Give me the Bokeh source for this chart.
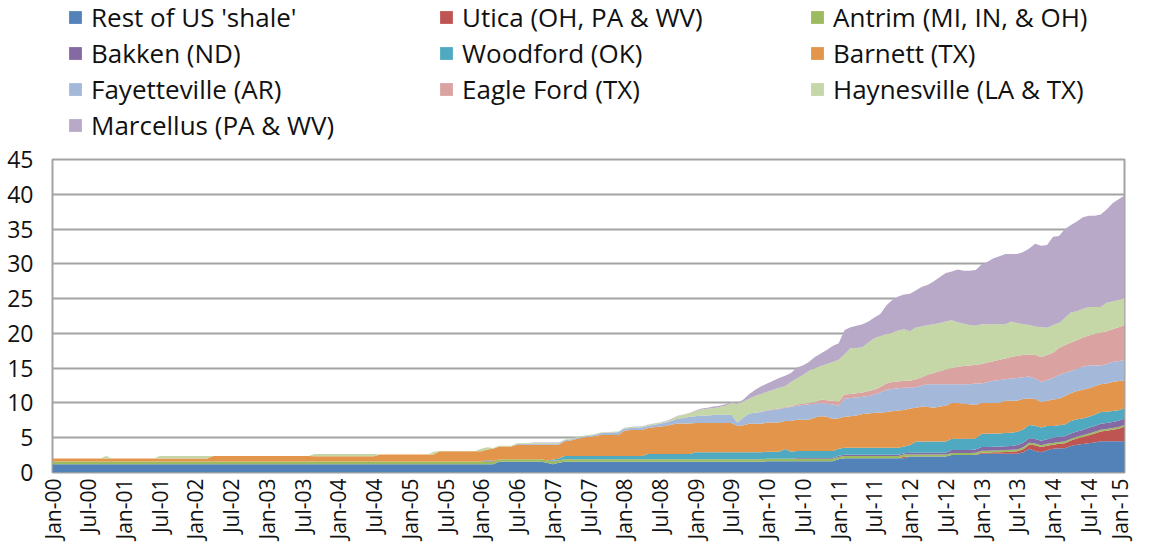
import math
from bokeh.plotting import figure
from bokeh.layouts import column
from bokeh.models import ColumnDataSource, FixedTicker, Range1d, Legend, LegendItem
from bokeh.embed import file_html
from bokeh.resources import INLINE

# ---------------- data ----------------
tick_labels = ["Jan-00", "Jul-00", "Jan-01", "Jul-01", "Jan-02", "Jul-02", "Jan-03", "Jul-03",
               "Jan-04", "Jul-04", "Jan-05", "Jul-05", "Jan-06", "Jul-06", "Jan-07", "Jul-07",
               "Jan-08", "Jul-08", "Jan-09", "Jul-09", "Jan-10", "Jul-10", "Jan-11", "Jul-11",
               "Jan-12", "Jul-12", "Jan-13", "Jul-13", "Jan-14", "Jul-14", "Jan-15"]
y_ticks = [0, 5, 10, 15, 20, 25, 30, 35, 40, 45]
months = list(range(181))  # monthly index, Jan-00 .. Jan-15

series_names = ["Rest of US 'shale'", "Utica (OH, PA & WV)", "Antrim (MI, IN, & OH)",
                "Bakken (ND)", "Woodford (OK)", "Barnett (TX)",
                "Fayetteville (AR)", "Eagle Ford (TX)", "Haynesville (LA & TX)",
                "Marcellus (PA & WV)"]

rest_of_us = [
    1.2, 1.2, 1.2, 1.2, 1.2, 1.2, 1.2, 1.2, 1.2, 1.2, 1.2, 1.2,
    1.2, 1.2, 1.2, 1.2, 1.2, 1.2, 1.2, 1.2, 1.2, 1.2, 1.2, 1.2,
    1.2, 1.2, 1.2, 1.2, 1.2, 1.2, 1.2, 1.2, 1.2, 1.2, 1.2, 1.2,
    1.2, 1.2, 1.2, 1.2, 1.2, 1.2, 1.2, 1.2, 1.2, 1.2, 1.2, 1.2,
    1.2, 1.2, 1.2, 1.2, 1.2, 1.2, 1.2, 1.2, 1.2, 1.2, 1.2, 1.2,
    1.2, 1.2, 1.2, 1.2, 1.2, 1.2, 1.2, 1.2, 1.2, 1.2, 1.2, 1.2,
    1.2, 1.2, 1.2, 1.55, 1.55, 1.55, 1.55, 1.55, 1.55, 1.55, 1.55, 1.4,
    1.2, 1.4, 1.55, 1.55, 1.55, 1.55, 1.55, 1.55, 1.55, 1.55, 1.55, 1.55,
    1.55, 1.55, 1.55, 1.55, 1.55, 1.55, 1.55, 1.55, 1.55, 1.55, 1.55, 1.55,
    1.55, 1.55, 1.55, 1.55, 1.55, 1.55, 1.55, 1.55, 1.55, 1.55, 1.55, 1.55,
    1.6, 1.6, 1.6, 1.6, 1.6, 1.6, 1.6, 1.6, 1.6, 1.6, 1.6, 1.6,
    1.9, 2.05, 2.05, 2.05, 2.05, 2.05, 2.05, 2.05, 2.05, 2.05, 2.05, 2.05,
    2.3, 2.3, 2.3, 2.3, 2.3, 2.3, 2.3, 2.5, 2.5, 2.5, 2.5, 2.5,
    2.7, 2.7, 2.7, 2.7, 2.7, 2.7, 2.7, 2.9, 3.4, 3.1, 2.9, 3.2,
    3.4, 3.5, 3.5, 3.8, 4.0, 4.1, 4.2, 4.3, 4.5, 4.5, 4.5, 4.5,
    4.5]

utica = [
    0, 0, 0, 0, 0, 0, 0, 0, 0, 0, 0, 0,
    0, 0, 0, 0, 0, 0, 0, 0, 0, 0, 0, 0,
    0, 0, 0, 0, 0, 0, 0, 0, 0, 0, 0, 0,
    0, 0, 0, 0, 0, 0, 0, 0, 0, 0, 0, 0,
    0, 0, 0, 0, 0, 0, 0, 0, 0, 0, 0, 0,
    0, 0, 0, 0, 0, 0, 0, 0, 0, 0, 0, 0,
    0, 0, 0, 0, 0, 0, 0, 0, 0, 0, 0, 0,
    0, 0, 0, 0, 0, 0, 0, 0, 0, 0, 0, 0,
    0, 0, 0, 0, 0, 0, 0, 0, 0, 0, 0, 0,
    0, 0, 0, 0, 0, 0, 0, 0, 0, 0, 0, 0,
    0, 0, 0, 0, 0, 0, 0, 0, 0, 0, 0, 0,
    0, 0, 0, 0, 0, 0, 0, 0, 0, 0, 0, 0.2,
    0, 0, 0, 0, 0, 0, 0, 0, 0, 0, 0, 0.05,
    0.15, 0.15, 0.2, 0.2, 0.25, 0.3, 0.35, 0.45, 0.6, 0.8, 0.75, 0.65,
    0.6, 0.65, 0.7, 0.8, 0.9, 1.0, 1.15, 1.3, 1.4, 1.5, 1.65, 1.8,
    2.1]

antrim = [
    0.37, 0.37, 0.37, 0.37, 0.37, 0.37, 0.37, 0.37, 0.37, 0.37, 0.37, 0.37,
    0.37, 0.37, 0.37, 0.37, 0.37, 0.37, 0.37, 0.37, 0.37, 0.37, 0.37, 0.37,
    0.37, 0.37, 0.37, 0.37, 0.37, 0.37, 0.37, 0.37, 0.37, 0.37, 0.37, 0.37,
    0.37, 0.37, 0.37, 0.37, 0.37, 0.37, 0.37, 0.37, 0.37, 0.37, 0.37, 0.37,
    0.37, 0.37, 0.37, 0.37, 0.37, 0.37, 0.37, 0.37, 0.37, 0.37, 0.37, 0.37,
    0.37, 0.37, 0.37, 0.37, 0.37, 0.37, 0.37, 0.37, 0.37, 0.37, 0.37, 0.37,
    0.37, 0.37, 0.37, 0.37, 0.37, 0.37, 0.37, 0.37, 0.37, 0.37, 0.37, 0.37,
    0.37, 0.37, 0.37, 0.37, 0.37, 0.37, 0.37, 0.37, 0.37, 0.37, 0.37, 0.37,
    0.37, 0.37, 0.37, 0.37, 0.37, 0.37, 0.37, 0.37, 0.37, 0.37, 0.37, 0.37,
    0.37, 0.37, 0.37, 0.37, 0.37, 0.37, 0.37, 0.37, 0.37, 0.37, 0.37, 0.37,
    0.37, 0.37, 0.37, 0.37, 0.37, 0.37, 0.37, 0.37, 0.37, 0.37, 0.37, 0.37,
    0.32, 0.32, 0.32, 0.32, 0.32, 0.32, 0.32, 0.32, 0.32, 0.32, 0.32, 0.32,
    0.3, 0.3, 0.3, 0.3, 0.3, 0.3, 0.3, 0.3, 0.3, 0.3, 0.3, 0.3,
    0.27, 0.27, 0.27, 0.27, 0.27, 0.27, 0.27, 0.27, 0.27, 0.27, 0.27, 0.27,
    0.25, 0.25, 0.25, 0.25, 0.25, 0.25, 0.25, 0.25, 0.25, 0.25, 0.25, 0.25,
    0.22]

bakken = [
    0, 0, 0, 0, 0, 0, 0, 0, 0, 0, 0, 0,
    0, 0, 0, 0, 0, 0, 0, 0, 0, 0, 0, 0,
    0, 0, 0, 0, 0, 0, 0, 0, 0, 0, 0, 0,
    0, 0, 0, 0, 0, 0, 0, 0, 0, 0, 0, 0,
    0, 0, 0, 0, 0, 0, 0, 0, 0, 0, 0, 0,
    0, 0, 0, 0, 0, 0, 0, 0, 0, 0, 0, 0,
    0, 0.12, 0.1, 0, 0, 0, 0, 0, 0, 0, 0, 0,
    0.12, 0, 0, 0, 0, 0, 0, 0, 0, 0, 0, 0,
    0, 0, 0, 0, 0, 0, 0, 0, 0, 0, 0, 0,
    0, 0, 0, 0, 0, 0, 0, 0, 0, 0, 0, 0,
    0, 0, 0, 0, 0, 0.12, 0.12, 0.12, 0.12, 0.12, 0.12, 0.12,
    0.18, 0.18, 0.18, 0.18, 0.18, 0.18, 0.18, 0.18, 0.18, 0.18, 0.18, 0.18,
    0.25, 0.25, 0.25, 0.25, 0.25, 0.25, 0.25, 0.45, 0.45, 0.45, 0.45, 0.45,
    0.55, 0.55, 0.55, 0.55, 0.55, 0.55, 0.65, 0.65, 0.65, 0.65, 0.65, 0.65,
    0.75, 0.75, 0.75, 0.75, 0.75, 0.75, 0.85, 0.85, 0.85, 0.85, 0.85, 0.9,
    0.95]

woodford = [
    0, 0, 0, 0, 0, 0, 0, 0, 0, 0, 0, 0,
    0, 0, 0, 0, 0, 0, 0, 0, 0, 0, 0, 0,
    0, 0, 0, 0, 0, 0, 0, 0, 0, 0, 0, 0,
    0, 0, 0, 0, 0, 0, 0, 0, 0, 0, 0, 0,
    0, 0, 0, 0, 0, 0, 0, 0, 0, 0, 0, 0,
    0, 0, 0, 0, 0, 0, 0, 0, 0, 0, 0, 0,
    0, 0.1, 0, 0, 0, 0, 0, 0, 0, 0, 0, 0,
    0.15, 0.25, 0.45, 0.45, 0.45, 0.45, 0.45, 0.45, 0.45, 0.45, 0.45, 0.45,
    0.45, 0.45, 0.45, 0.45, 0.75, 0.75, 0.75, 0.75, 0.75, 0.75, 0.75, 0.75,
    1.0, 1.0, 1.0, 1.0, 1.0, 1.0, 1.0, 1.0, 1.0, 1.0, 1.0, 1.0,
    1.0, 1.0, 1.0, 1.4, 1.0, 1.0, 1.0, 1.0, 1.0, 1.0, 1.0, 1.0,
    1.0, 1.0, 1.0, 1.0, 1.0, 1.0, 1.0, 1.0, 1.0, 1.0, 1.0, 1.0,
    1.1, 1.6, 1.6, 1.6, 1.6, 1.6, 1.6, 1.6, 1.6, 1.6, 1.6, 1.6,
    1.9, 1.9, 1.9, 1.9, 1.9, 1.9, 1.9, 1.9, 1.9, 1.9, 1.9, 1.9,
    1.7, 1.65, 1.7, 1.8, 1.75, 1.65, 1.55, 1.6, 1.7, 1.65, 1.6, 1.5,
    1.45]

barnett = [
    0.45, 0.45, 0.45, 0.45, 0.45, 0.45, 0.45, 0.45, 0.45, 0.45, 0.45, 0.45,
    0.45, 0.45, 0.45, 0.45, 0.45, 0.45, 0.45, 0.45, 0.45, 0.45, 0.45, 0.45,
    0.45, 0.45, 0.45, 0.8, 0.8, 0.8, 0.8, 0.8, 0.8, 0.8, 0.8, 0.8,
    0.8, 0.8, 0.8, 0.8, 0.8, 0.8, 0.8, 0.8, 0.75, 0.75, 0.75, 0.75,
    0.75, 0.75, 0.75, 0.75, 0.75, 0.75, 0.75, 1.0, 1.0, 1.0, 1.0, 1.0,
    1.0, 1.0, 1.0, 1.0, 1.0, 1.48, 1.48, 1.48, 1.48, 1.48, 1.48, 1.48,
    1.5, 1.5, 1.75, 1.83, 1.83, 1.83, 2.08, 2.08, 2.08, 2.08, 2.08, 2.23,
    2.16, 1.98, 2.13, 2.23, 2.43, 2.63, 2.73, 2.83, 3.03, 3.03, 3.03, 3.03,
    3.63, 3.73, 3.73, 3.73, 3.73, 3.83, 3.93, 4.03, 4.23, 4.38, 4.38, 4.38,
    4.18, 4.18, 4.18, 4.18, 4.18, 4.18, 4.18, 3.78, 3.88, 4.08, 4.08, 4.08,
    4.23, 4.23, 4.23, 4.03, 4.43, 4.51, 4.51, 4.51, 4.81, 5.01, 4.91, 4.61,
    4.4, 4.45, 4.55, 4.65, 4.85, 4.95, 5.05, 5.05, 5.15, 5.25, 5.35, 5.25,
    5.25, 4.85, 5.05, 4.95, 4.85, 5.05, 5.15, 5.15, 5.15, 5.05, 4.95, 4.8,
    4.43, 4.43, 4.38, 4.38, 4.63, 4.58, 4.43, 4.43, 3.78, 3.88, 3.63, 3.63,
    3.8, 3.8, 4.1, 4.0, 4.05, 4.15, 4.1, 4.1, 4.0, 4.05, 4.15, 4.2,
    4.0]

fayetteville = [
    0, 0, 0, 0, 0, 0, 0, 0, 0, 0, 0, 0,
    0, 0, 0, 0, 0, 0, 0, 0, 0, 0, 0, 0,
    0, 0, 0, 0, 0, 0, 0, 0, 0, 0, 0, 0,
    0, 0, 0, 0, 0, 0, 0, 0, 0, 0, 0, 0,
    0, 0, 0, 0, 0, 0, 0, 0, 0, 0, 0, 0,
    0, 0, 0, 0, 0, 0, 0, 0, 0, 0, 0, 0,
    0, 0, 0, 0, 0, 0, 0.1, 0.1, 0.15, 0.15, 0.15, 0.15,
    0.15, 0.15, 0.15, 0.15, 0.15, 0.15, 0.2, 0.2, 0.25, 0.3, 0.35, 0.4,
    0.3, 0.3, 0.35, 0.4, 0.3, 0.35, 0.4, 0.5, 0.55, 0.7, 0.8, 0.95,
    1.0, 1.1, 1.1, 1.15, 1.2, 1.2, 1.2, 0.5, 1.1, 1.5, 1.6, 1.7,
    1.7, 1.8, 1.9, 1.9, 2.0, 2.0, 2.1, 2.2, 2.0, 1.9, 1.9, 2.1,
    1.8, 2.6, 2.6, 2.6, 2.5, 2.5, 2.6, 2.9, 3.2, 3.2, 3.2, 3.2,
    3.0, 3.0, 3.0, 3.3, 3.4, 3.2, 3.1, 2.7, 2.7, 2.8, 2.9, 3.1,
    2.8, 3.0, 3.2, 3.3, 3.1, 3.2, 3.3, 3.1, 3.2, 2.9, 2.9, 3.0,
    3.1, 3.4, 3.3, 3.2, 3.2, 3.3, 3.3, 3.0, 2.7, 2.8, 2.9, 2.85,
    3.0]

eagle_ford = [
    0, 0, 0, 0, 0, 0, 0, 0, 0, 0, 0, 0,
    0, 0, 0, 0, 0, 0, 0, 0, 0, 0, 0, 0,
    0, 0, 0, 0, 0, 0, 0, 0, 0, 0, 0, 0,
    0, 0, 0, 0, 0, 0, 0, 0, 0, 0, 0, 0,
    0, 0, 0, 0, 0, 0, 0, 0, 0, 0, 0, 0,
    0, 0, 0, 0, 0, 0, 0, 0, 0, 0, 0, 0,
    0, 0, 0, 0, 0, 0, 0, 0, 0, 0, 0, 0,
    0, 0, 0, 0, 0, 0, 0, 0, 0, 0, 0, 0,
    0, 0, 0, 0, 0, 0, 0, 0, 0, 0, 0, 0,
    0, 0, 0, 0, 0, 0, 0, 0, 0, 0, 0, 0.05,
    0.1, 0.1, 0.1, 0.1, 0.1, 0.2, 0.2, 0.2, 0.2, 0.5, 0.5, 0.5,
    0.6, 0.6, 0.6, 0.6, 0.6, 0.7, 0.7, 0.8, 0.9, 1.0, 1.0, 1.0,
    1.0, 1.1, 1.2, 1.4, 1.6, 1.9, 2.1, 2.3, 2.5, 2.6, 2.7, 2.7,
    2.8, 2.8, 2.8, 2.9, 3.0, 3.1, 3.2, 3.2, 3.2, 3.4, 3.6, 3.6,
    3.6, 3.9, 4.0, 4.1, 4.1, 4.2, 4.3, 4.5, 4.7, 4.7, 4.7, 4.9,
    5.0]

haynesville = [
    0, 0, 0, 0, 0, 0, 0, 0, 0, 0.35, 0, 0,
    0, 0, 0, 0, 0, 0, 0.35, 0.35, 0.35, 0.35, 0.35, 0.35,
    0.35, 0.35, 0.35, 0, 0, 0, 0, 0, 0, 0, 0, 0,
    0, 0, 0, 0, 0, 0, 0, 0, 0.35, 0.35, 0.35, 0.35,
    0.35, 0.35, 0.35, 0.35, 0.35, 0.35, 0.35, 0, 0, 0, 0, 0,
    0, 0, 0, 0, 0.4, 0.05, 0.05, 0.05, 0.05, 0.05, 0.05, 0.05,
    0.35, 0.35, 0.1, 0.1, 0.1, 0.1, 0.1, 0.1, 0.1, 0.1, 0.1, 0.1,
    0.1, 0.1, 0.1, 0.1, 0.1, 0.1, 0.1, 0.1, 0.1, 0.1, 0.1, 0.1,
    0.1, 0.1, 0.1, 0.1, 0.15, 0.15, 0.15, 0.15, 0.25, 0.35, 0.45, 0.55,
    0.7, 0.85, 0.95, 1.0, 1.1, 1.3, 1.7, 2.7, 2.3, 2.1, 2.4, 2.55,
    2.6, 2.8, 3.0, 3.0, 3.5, 3.7, 4.1, 4.6, 4.9, 4.8, 5.2, 5.6,
    6.0, 5.8, 6.6, 6.5, 6.5, 7.0, 7.4, 7.3, 7.1, 7.1, 7.3, 7.4,
    7.1, 7.5, 7.3, 7.1, 7.0, 6.9, 6.9, 6.9, 6.4, 6.1, 5.8, 5.6,
    5.7, 5.5, 5.3, 5.1, 4.9, 5.1, 4.7, 4.4, 4.2, 4.1, 4.3, 3.9,
    4.0, 3.6, 3.9, 4.3, 4.2, 4.1, 4.1, 3.9, 3.7, 4.1, 4.0, 3.9,
    3.9]

marcellus = [
    0, 0, 0, 0, 0, 0, 0, 0, 0, 0, 0, 0,
    0, 0, 0, 0, 0, 0, 0, 0, 0, 0, 0, 0,
    0, 0, 0, 0, 0, 0, 0, 0, 0, 0, 0, 0,
    0, 0, 0, 0, 0, 0, 0, 0, 0, 0, 0, 0,
    0, 0, 0, 0, 0, 0, 0, 0, 0, 0, 0, 0,
    0, 0, 0, 0, 0, 0, 0, 0, 0, 0, 0, 0,
    0, 0, 0, 0, 0, 0, 0, 0, 0, 0.08, 0.08, 0.08,
    0.08, 0.08, 0, 0, 0, 0, 0, 0, 0, 0, 0, 0,
    0.05, 0.05, 0.05, 0.05, 0.05, 0.05, 0.05, 0.05, 0.05, 0.05, 0.05, 0.05,
    0.1, 0.15, 0.15, 0.25, 0.2, 0.2, 0.1, 0.1, 0.3, 0.7, 0.9, 1.1,
    1.2, 1.3, 1.4, 1.5, 1.3, 1.6, 1.4, 1.3, 1.6, 1.8, 2.0, 2.3,
    2.4, 3.5, 3.0, 3.2, 3.3, 3.0, 3.0, 3.2, 4.1, 4.7, 4.9, 5.0,
    5.4, 5.3, 5.7, 5.8, 6.2, 6.6, 7.0, 7.0, 7.6, 7.6, 7.8, 8.0,
    8.6, 9.0, 9.5, 9.8, 10.1, 9.7, 9.9, 10.4, 11.0, 11.9, 11.7, 11.9,
    12.7, 12.5, 12.8, 12.6, 12.9, 13.2, 13.1, 13.1, 13.3, 13.4, 14.1, 14.5,
    14.7]

series_values = [rest_of_us, utica, antrim, bakken, woodford, barnett,
                 fayetteville, eagle_ford, haynesville, marcellus]
for nm, vals in zip(series_names, series_values):
    assert len(vals) == len(months), (nm, len(vals))

colors = ["#5282B8", "#BE5552", "#9CBA5E", "#8469A3", "#4FAAC1", "#E3954B",
          "#A4B8DA", "#DAA3A2", "#C5D6A7", "#B9A9C8"]

FONT = "Open Sans"
TEXT = "#111111"
GRAY = "#a3a3a3"
keys = ["s%d" % i for i in range(len(series_values))]

# ---------------- main chart ----------------
data = {"x": months}
for k, v in zip(keys, series_values):
    data[k] = v
source = ColumnDataSource(data)

LEG_H = 143
FRAME_LEFT = 52
p = figure(width=1133, height=543 - LEG_H, output_backend="svg", toolbar_location=None,
           x_range=Range1d(0, 180), y_range=Range1d(0, 45),
           min_border_left=FRAME_LEFT, min_border_right=9, min_border_top=16,
           min_border_bottom=71)
p.varea_stack(stackers=keys, x="x", color=colors, source=source)

p.background_fill_color = "white"
p.border_fill_color = "white"
p.outline_line_color = GRAY
p.outline_line_width = 2
p.xgrid.grid_line_color = None
p.ygrid.grid_line_color = GRAY
p.ygrid.grid_line_width = 2

p.yaxis.ticker = FixedTicker(ticks=y_ticks)
p.yaxis.axis_line_color = None
p.yaxis.major_tick_line_color = None
p.yaxis.minor_tick_line_color = None
p.yaxis.major_tick_out = 0
p.yaxis.major_label_standoff = 19
p.yaxis.major_label_text_font = FONT
p.yaxis.major_label_text_font_size = "23px"
p.yaxis.major_label_text_color = TEXT

tick_pos = list(range(0, 181, 6))
p.xaxis.ticker = FixedTicker(ticks=tick_pos)
p.xaxis.major_label_overrides = {t: lab for t, lab in zip(tick_pos, tick_labels)}
p.xaxis.major_label_orientation = math.pi / 2
p.xaxis.axis_line_color = None
p.xaxis.major_tick_line_color = None
p.xaxis.minor_tick_line_color = None
p.xaxis.major_tick_out = 0
p.xaxis.major_label_standoff = 6
p.xaxis.major_label_text_font = FONT
p.xaxis.major_label_text_font_size = "21px"
p.xaxis.major_label_text_color = TEXT

# ---------------- legend strip ----------------
# same stacked renderers, drawn on an x range outside the data so only the legend shows
lg = figure(width=1133, height=LEG_H, output_backend="svg", toolbar_location=None,
            x_range=Range1d(-20, -10), y_range=Range1d(0, 45),
            x_axis_type=None, y_axis_type=None, min_border=0)
lg.outline_line_color = None
lg.grid.grid_line_color = None
lg.background_fill_color = "white"
lg.border_fill_color = "white"
lg_renderers = lg.varea_stack(stackers=keys, x="x", color=colors, source=source)

legend = Legend(items=[LegendItem(label=n, renderers=[r]) for n, r in zip(series_names, lg_renderers)],
                orientation="horizontal", ncols=3, location=(68 - FRAME_LEFT - 1, 0),
                glyph_width=16, glyph_height=16, label_standoff=8,
                label_width=347, label_height=20, spacing=0, padding=0, margin=0,
                border_line_color=None, background_fill_alpha=0,
                label_text_font=FONT, label_text_font_size="26px",
                label_text_color=TEXT)
lg.add_layout(legend)

layout = column(lg, p, spacing=0)
open("out.html", "w").write(file_html(layout, INLINE))
